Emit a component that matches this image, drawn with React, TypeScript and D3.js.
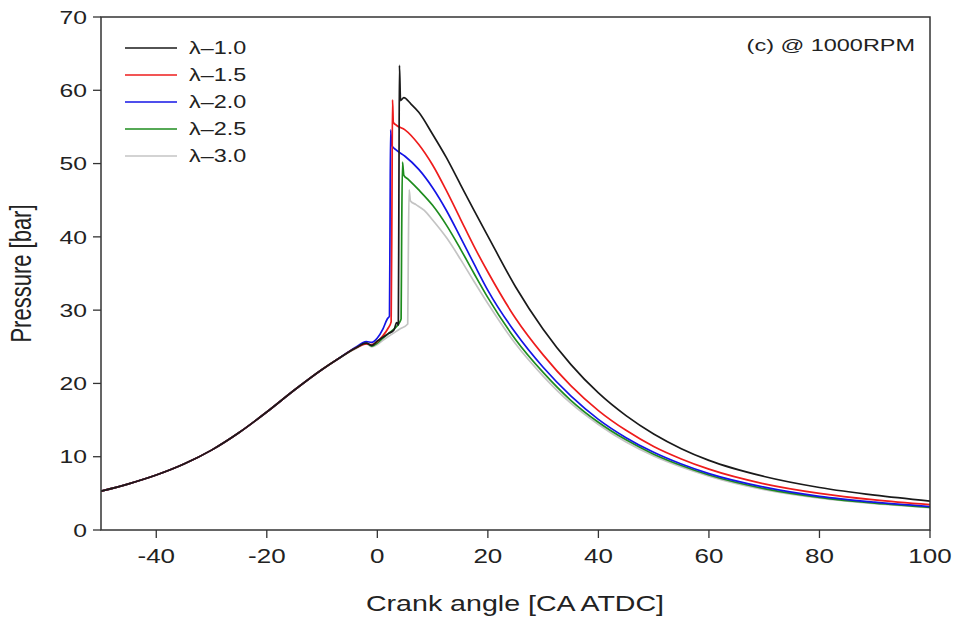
import React from "react";
import * as d3 from "d3";

const xTicks = [-40, -20, 0, 20, 40, 60, 80, 100];
const yTicks = [0, 10, 20, 30, 40, 50, 60, 70];

// shared compression stroke (all five curves overlap here)
const compressionAngle = [-50, -45, -40, -35, -30, -25, -20, -15, -10, -7];
const compressionPressure = [5.3, 6.3, 7.5, 9.0, 10.9, 13.3, 16.1, 19.1, 21.9, 23.4];

const lambda10: [number, number][] = [
  [-4, 24.8], [-2, 25.5], [-1, 25.2], [0, 25.8], [1, 26.3], [2, 26.8], [3, 27.3], [3.5, 28.3], [3.8, 28.0],
  [3.9, 45], [4.0, 63.4], [4.2, 58.6], [4.8, 59.0], [6, 58.2], [7.5, 57.0], [10, 54.0], [12.5, 50.8],
  [15, 47.2], [17.5, 43.6], [20, 40.1], [25, 33.2], [30, 27.4], [35, 22.6], [40, 18.7], [45, 15.6],
  [50, 13.1], [55, 11.1], [60, 9.5], [70, 7.3], [80, 5.8], [90, 4.75], [100, 3.95],
];
const lambda15: [number, number][] = [
  [-4, 24.8], [-2, 25.4], [-1, 25.3], [0, 25.7], [1, 26.5], [2, 27.6], [2.5, 28.4], [2.65, 45],
  [2.75, 58.7], [2.9, 55.6], [3.5, 55.2], [5, 54.6], [7.5, 52.6], [10, 49.8], [12.5, 46.3], [15, 42.5],
  [17.5, 38.7], [20, 35.2], [25, 28.9], [30, 23.9], [35, 19.7], [40, 16.3], [45, 13.6], [50, 11.4],
  [55, 9.7], [60, 8.3], [70, 6.3], [80, 5.0], [90, 4.1], [100, 3.45],
];
const lambda20: [number, number][] = [
  [-4, 24.9], [-2, 25.7], [-1, 25.6], [0, 26.2], [1, 27.4], [1.8, 28.8], [2.2, 29.2], [2.3, 42],
  [2.4, 54.6], [2.6, 52.5], [3.5, 51.8], [5, 51.0], [7.5, 49.2], [10, 46.7], [12.5, 43.6], [15, 40.0],
  [17.5, 36.3], [20, 32.7], [25, 26.9], [30, 22.2], [35, 18.3], [40, 15.1], [45, 12.6], [50, 10.6],
  [55, 9.0], [60, 7.7], [70, 5.85], [80, 4.6], [90, 3.8], [100, 3.2],
];
const lambda25: [number, number][] = [
  [-4, 24.8], [-2, 25.5], [-1, 25.1], [0, 25.5], [1, 26.2], [2, 26.8], [3, 27.4], [4.0, 28.3], [4.3, 28.8],
  [4.4, 40], [4.55, 50.2], [4.8, 48.4], [5.5, 47.9], [7.5, 46.4], [10, 44.3], [12.5, 41.6], [15, 38.4],
  [17.5, 35.0], [20, 31.7], [25, 26.0], [30, 21.5], [35, 17.7], [40, 14.7], [45, 12.3], [50, 10.35],
  [55, 8.8], [60, 7.5], [70, 5.65], [80, 4.45], [90, 3.65], [100, 3.1],
];
const lambda30: [number, number][] = [
  [-4, 24.7], [-2, 25.4], [-1, 25.0], [0, 25.3], [1, 25.9], [2, 26.4], [3, 26.9], [4, 27.4], [5.5, 28.1],
  [5.6, 37], [5.75, 46.4], [6.0, 44.9], [7.0, 44.4], [8.5, 43.6], [10, 42.3], [12.5, 39.9], [15, 37.0],
  [17.5, 33.9], [20, 30.9], [25, 25.4], [30, 21.0], [35, 17.3], [40, 14.4], [45, 12.0], [50, 10.1],
  [55, 8.6], [60, 7.35], [70, 5.5], [80, 4.35], [90, 3.6], [100, 3.05],
];

const seriesNames = ["λ–1.0", "λ–1.5", "λ–2.0", "λ–2.5", "λ–3.0"];
const seriesColors = ["#1a1a1a", "#ee1c1c", "#1414e6", "#1e8c1e", "#c4c4c4"];
const seriesData = [lambda10, lambda15, lambda20, lambda25, lambda30];

const W = 955;
const H = 619;
const left = 101;
const right = 930;
const top = 17;
const bottom = 530;
const SX = 1.3;

export default function App() {
  const x = d3.scaleLinear().domain([-50, 100]).range([left, right]);
  const y = d3.scaleLinear().domain([0, 70]).range([bottom, top]);
  const line = d3
    .line<[number, number]>()
    .x((d) => x(d[0]))
    .y((d) => y(d[1]))
    .curve(d3.curveMonotoneX);

  const compression: [number, number][] = compressionAngle.map((a, i) => [a, compressionPressure[i]]);
  const font = "'Liberation Sans', Arial, sans-serif";
  const drawOrder = [4, 3, 2, 1, 0];

  return (
    <svg width={W} height={H} style={{ position: "absolute", left: 0, top: 0, background: "#fff" }}>
      <rect x={0} y={0} width={W} height={H} fill="#fff" />
      <defs>
        <clipPath id="plot">
          <rect x={left} y={top} width={right - left} height={bottom - top} />
        </clipPath>
      </defs>
      <g clipPath="url(#plot)">
        {drawOrder.map((i) => (
          <path
            key={i}
            d={line([...compression, ...seriesData[i]]) || ""}
            fill="none"
            stroke={seriesColors[i]}
            strokeWidth={1.7}
            strokeLinejoin="round"
          />
        ))}
      </g>
      <rect x={left} y={top} width={right - left} height={bottom - top} fill="none" stroke="#333" strokeWidth={1.5} />
      {yTicks.map((t) => (
        <g key={"y" + t}>
          <line x1={left - 8} x2={left} y1={y(t)} y2={y(t)} stroke="#333" strokeWidth={1.3} />
          <text
            transform={`translate(${left - 14},${y(t)}) scale(${SX},1)`}
            dy="0.35em"
            textAnchor="end"
            fontFamily={font}
            fontSize={19}
            fill="#222"
          >
            {t}
          </text>
        </g>
      ))}
      {xTicks.map((t) => (
        <g key={"x" + t}>
          <line x1={x(t)} x2={x(t)} y1={bottom} y2={bottom + 8} stroke="#333" strokeWidth={1.3} />
          <text
            transform={`translate(${x(t)},563) scale(${SX},1)`}
            textAnchor="middle"
            fontFamily={font}
            fontSize={20}
            fill="#222"
          >
            {t}
          </text>
        </g>
      ))}
      <text
        transform={`translate(515,611) scale(${SX},1)`}
        textAnchor="middle"
        fontFamily={font}
        fontSize={22}
        fill="#222"
      >
        Crank angle [CA ATDC]
      </text>
      <text
        transform={`translate(31, ${(top + bottom) / 2}) rotate(-90) scale(1,${SX})`}
        textAnchor="middle"
        fontFamily={font}
        fontSize={22}
        fill="#222"
      >
        Pressure [bar]
      </text>
      <text
        transform={`translate(915,51) scale(1.38,1)`}
        textAnchor="end"
        fontFamily={font}
        fontSize={17}
        fill="#222"
      >
        (c) @ 1000RPM
      </text>
      {seriesNames.map((n, i) => (
        <g key={n}>
          <line x1={125} x2={177} y1={48 + i * 27} y2={48 + i * 27} stroke={seriesColors[i]} strokeWidth={1.7} />
          <text
            transform={`translate(189,${48 + i * 27}) scale(${SX},1)`}
            dy="0.35em"
            fontFamily={font}
            fontSize={18}
            fill="#222"
          >
            {n}
          </text>
        </g>
      ))}
    </svg>
  );
}
